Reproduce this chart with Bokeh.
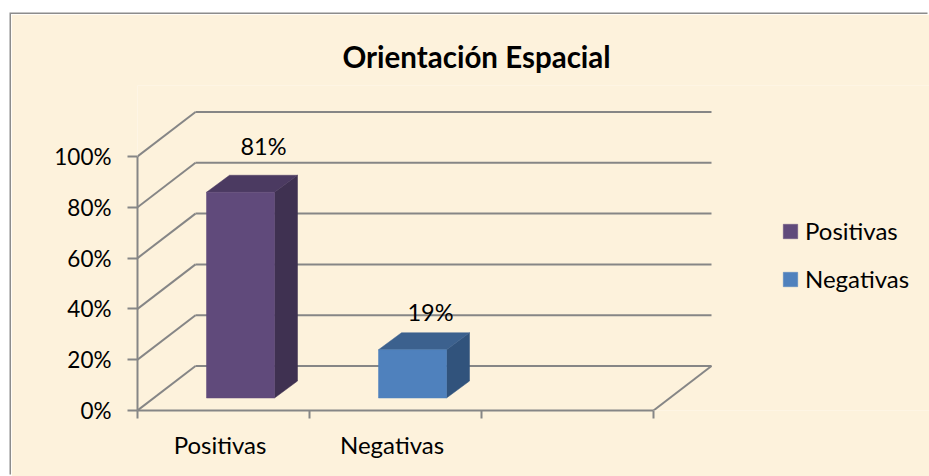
from bokeh.plotting import figure
from bokeh.embed import file_html
from bokeh.resources import INLINE
from bokeh.models import (Range1d, LinearAxis, FixedTicker, Title, Legend, LegendItem,
                          ColumnDataSource)
from bokeh.core.properties import value

title_text = "Orientación Espacial"
categories = ["Positivas", "Negativas"]
values = [81, 19]
labels = ["81%", "19%"]
front_colors = ["#604A7B", "#4F81BD"]
top_colors = ["#4B3A61", "#3C618E"]
side_colors = ["#3F3151", "#31537C"]
y_ticks = [0, 20, 40, 60, 80, 100]
y_tick_labels = ["0%", "20%", "40%", "60%", "80%", "100%"]
n_slots = 3

FONT = "Lato"
GRID = "#868686"
PAPER = "#FDF2DC"
W, H = 918, 462
PX_X = 172.0   # px per category
PX_Y = 2.54    # px per percent

# projection of the 3D box, in data units
wall_dx, wall_dy = 58 / PX_X, 44.5 / PX_Y
bar_dx, bar_dy = 23 / PX_X, 17 / PX_Y
bar_gap, bar_w, bar_base = 69 / PX_X, 68 / PX_X, 12.5 / PX_Y

FL, FT, FB = 126, 71, 66   # frame margins inside the figure
p = figure(width=W, height=H, output_backend="svg", toolbar_location=None,
           x_range=Range1d(0, (W - FL) / PX_X),
           y_range=Range1d(0, (H - FT - FB) / PX_Y),
           x_axis_type=None, y_axis_type=None,
           min_border_left=FL, min_border_right=0, min_border_top=FT, min_border_bottom=FB,
           background_fill_color=PAPER, border_fill_color=PAPER, outline_line_color=None,
           margin=(14, 0, 0, 11),
           styles={"box-shadow": "-1.5px -1.5px 0 #8C8C8C"})
p.grid.visible = False

# walls
back_x0, back_x1 = wall_dx, n_slots + wall_dx
p.multi_line([[back_x0, back_x1] for t in y_ticks],
             [[t + wall_dy, t + wall_dy] for t in y_ticks], line_color=GRID, line_width=2)
p.multi_line([[0, wall_dx] for t in y_ticks],
             [[t, t + wall_dy] for t in y_ticks], line_color=GRID, line_width=2)
p.line([n_slots, n_slots + wall_dx], [0, wall_dy], line_color=GRID, line_width=2)

# bars
items = []
for i, (cat, v) in enumerate(zip(categories, values)):
    x0 = i + bar_gap
    x1 = x0 + bar_w
    y0 = bar_base
    y1 = bar_base + v
    p.patch([x1, x1 + bar_dx, x1 + bar_dx, x1], [y0, y0 + bar_dy, y1 + bar_dy, y1],
            fill_color=side_colors[i], line_color=side_colors[i], line_width=0.5)
    p.patch([x0, x0 + bar_dx, x1 + bar_dx, x1], [y1, y1 + bar_dy, y1 + bar_dy, y1],
            fill_color=top_colors[i], line_color=top_colors[i], line_width=0.5)
    r = p.quad(left=[x0], right=[x1], bottom=[y0], top=[y1],
               fill_color=front_colors[i], line_color=front_colors[i], line_width=0.5)
    items.append(LegendItem(label=cat, renderers=[r]))

# data labels
label_src = ColumnDataSource(dict(
    x=[i + bar_gap + bar_w / 2 + bar_dx * (1.0 if i == 0 else 0.78) for i in range(len(values))],
    y=[bar_base + v + bar_dy for v in values],
    off=[-29, -21],
    t=labels))
p.text("x", "y", text="t", source=label_src, text_align="center", text_baseline="middle",
       y_offset="off", text_font=value(FONT), text_font_size="23.5px", text_color="#000000")

# axes
yax = LinearAxis(ticker=FixedTicker(ticks=y_ticks), bounds=(0, 100),
                 major_label_overrides={t: s for t, s in zip(y_ticks, y_tick_labels)},
                 axis_line_color=GRID, axis_line_width=2,
                 major_tick_line_color=GRID, major_tick_line_width=2,
                 major_tick_out=10, major_tick_in=0, minor_tick_out=0, minor_tick_in=0,
                 major_label_standoff=16, major_label_text_font=FONT,
                 major_label_text_font_size="22.5px", major_label_text_color="#000000",
                 major_label_text_font_style="normal")
p.add_layout(yax, "left")

label_ticks = [i + 0.48 for i in range(len(categories))]
xax = LinearAxis(ticker=FixedTicker(ticks=label_ticks, minor_ticks=list(range(n_slots + 1))),
                 bounds=(0, n_slots),
                 major_label_overrides={t: c for t, c in zip(label_ticks, categories)},
                 axis_line_color=GRID, axis_line_width=2,
                 major_tick_out=0, major_tick_in=0,
                 minor_tick_line_color=GRID, minor_tick_line_width=2,
                 minor_tick_out=8, minor_tick_in=0,
                 major_label_standoff=11, major_label_text_font=FONT,
                 major_label_text_font_size="24px", major_label_text_color="#000000",
                 major_label_text_font_style="normal")
p.add_layout(xax, "below")

# legend
legend = Legend(items=items, location=(644, 117), orientation="vertical",
                background_fill_alpha=0, border_line_alpha=0,
                glyph_width=18, glyph_height=18, spacing=19, label_standoff=6,
                padding=0, margin=0,
                label_text_font=FONT, label_text_font_size="24px", label_text_color="#000000")
p.add_layout(legend, "center")

# title
t = Title(text=title_text, align="left", offset=205, standoff=24,
          text_font=FONT, text_font_style="bold", text_font_size="29.5px", text_color="#000000")
p.add_layout(t, "above")

open("out.html", "w").write(file_html(p, INLINE))
